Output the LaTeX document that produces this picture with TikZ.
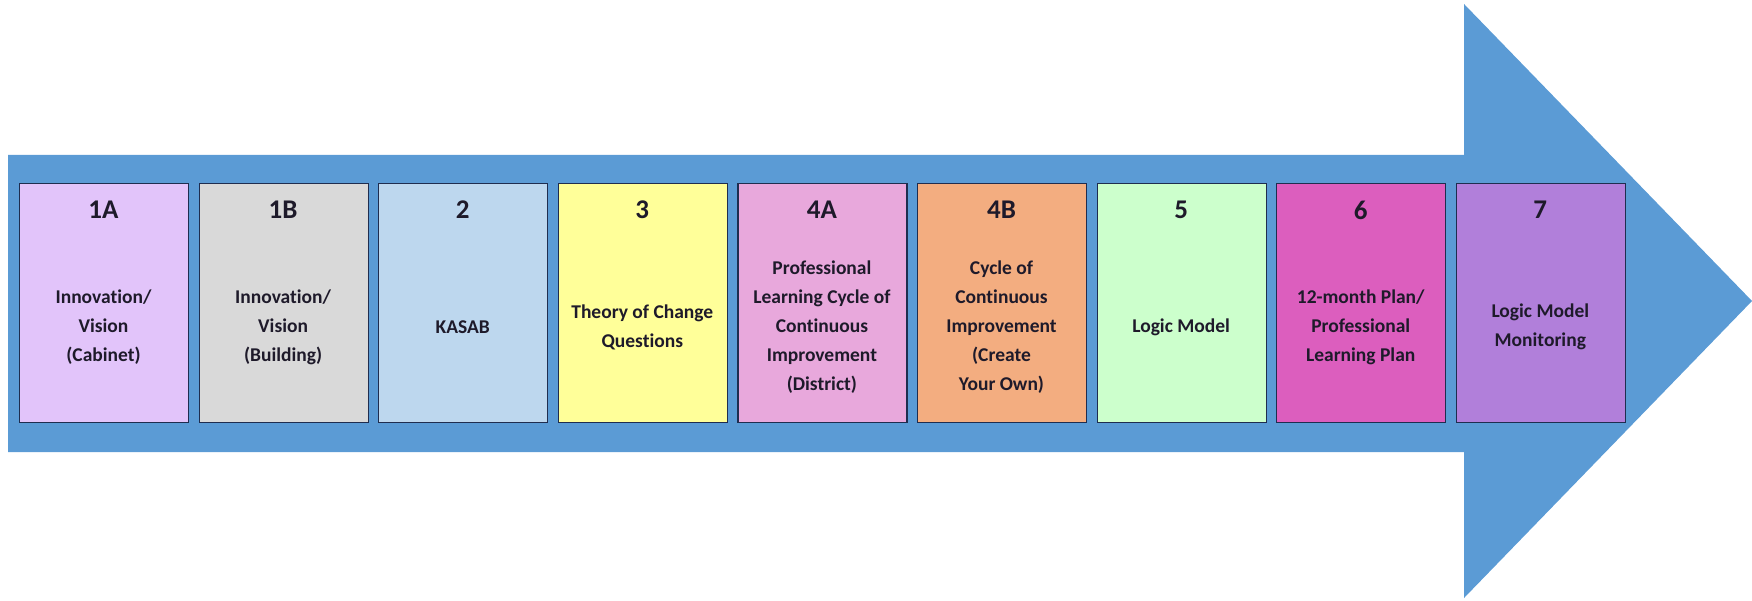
\documentclass[tikz,border=0pt]{standalone}
\usepackage{fontspec}
\setmainfont[Ligatures=NoCommon]{Carlito}
\usetikzlibrary{positioning}

\definecolor{arrowblue}{HTML}{5B9BD5}
\definecolor{boxline}{HTML}{1F2D4F}
\definecolor{lavender}{HTML}{E2C4FA}
\definecolor{softgray}{HTML}{D9D9D9}
\definecolor{softblue}{HTML}{BDD7EE}
\definecolor{softyellow}{HTML}{FFFF99}
\definecolor{softpink}{HTML}{E8A8DC}
\definecolor{softorange}{HTML}{F3AD80}
\definecolor{softgreen}{HTML}{CCFFCC}
\definecolor{magentabox}{HTML}{DC5EBE}
\definecolor{purplebox}{HTML}{B17FDA}
\definecolor{inktext}{HTML}{1E1A2A}

\begin{document}
\begin{tikzpicture}
	[x=1pt,y=-1pt,
	stage/.style={draw=boxline, line width=1.2pt, anchor=north west, inner sep=0pt, minimum width=169pt, minimum height=239pt},
	num/.style={text=inktext, font=\fontsize{27}{30}\selectfont\bfseries},
	desc/.style={text=inktext, align=center, font=\fontsize{19.5}{29}\selectfont\bfseries}]

\useasboundingbox (0,0) rectangle (1752,601);
\fill [arrowblue] (8,155) -- (1464,155) -- (1464,4) -- (1752,301) -- (1464,598) -- (1464,452) -- (8,452) -- cycle;

\node [stage, fill=lavender] (s1a) at (19,183) {};
\node [stage, fill=softgray] (s1b) at (198.6,183) {};
\node [stage, fill=softblue] (s2) at (378.2,183) {};
\node [stage, fill=softyellow] (s3) at (557.8,183) {};
\node [stage, fill=softpink] (s4a) at (737.4,183) {};
\node [stage, fill=softorange] (s4b) at (917,183) {};
\node [stage, fill=softgreen] (s5) at (1096.6,183) {};
\node [stage, fill=magentabox] (s6) at (1276.2,183) {};
\node [stage, fill=purplebox] (s7) at (1455.8,183) {};

\node [num] (n1a) at (103.5,210) {1A};
\node [num] (n1b) at (283.1,210) {1B};
\node [num] (n2) at (462.7,210) {2};
\node [num] (n3) at (642.3,210) {3};
\node [num] (n4a) at (821.9,210) {4A};
\node [num] (n4b) at (1001.5,210) {4B};
\node [num] (n5) at (1181.1,210) {5};
\node [num] (n6) at (1360.7,210) {6};
\node [num] (n7) at (1540.3,210) {7};

\node [desc] (d1a) at (103.5,327) {Innovation/\\Vision\\(Cabinet)};
\node [desc] (d1b) at (283.1,327) {Innovation/\\Vision\\(Building)};
\node [desc] (d2) at (462.7,327) {KASAB};
\node [desc] (d3) at (642.3,327) {Theory of Change\\Questions};
\node [desc] (d4a) at (821.9,327) {Professional\\Learning Cycle of\\Continuous\\Improvement\\(District)};
\node [desc] (d4b) at (1001.5,327) {Cycle of\\Continuous\\Improvement\\(Create\\Your Own)};
\node [desc] (d5) at (1181.1,327) {Logic Model};
\node [desc] (d6) at (1360.7,327) {12-month Plan/\\Professional\\Learning Plan};
\node [desc] (d7) at (1540.3,327) {Logic Model\\Monitoring};

\end{tikzpicture}
\end{document}
